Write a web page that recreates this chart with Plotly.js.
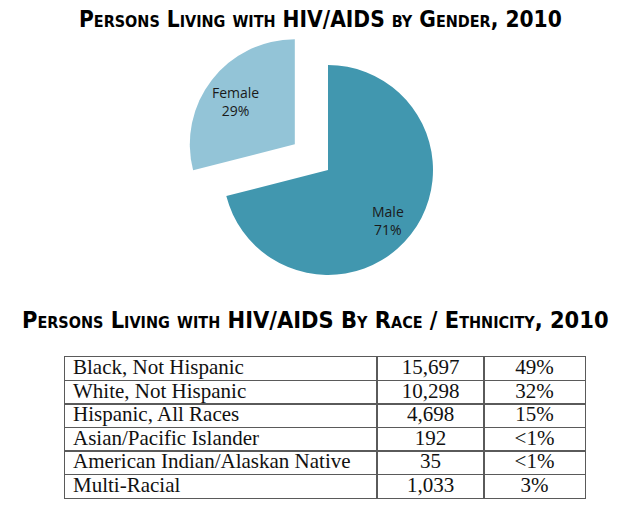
<!DOCTYPE html>
<html>
<head>
<meta charset="utf-8">
<script src="https://cdn.plot.ly/plotly-3.0.1.min.js"></script>
<style>
  html, body { margin: 0; padding: 0; background: #fff; }
  #chart { width: 630px; height: 509px; }
</style>
</head>
<body>
<div id="chart"></div>
<script>
// Gender split of persons living with HIV/AIDS, 2010
const genderLabels = ['Male', 'Female'];
const genderShares = [71, 29];
const genderColors = ['#4197AF', '#93C4D7'];

// Race / ethnicity breakdown, 2010
const raceCategories = [
  'Black, Not Hispanic',
  'White, Not Hispanic',
  'Hispanic, All Races',
  'Asian/Pacific Islander',
  'American Indian/Alaskan Native',
  'Multi-Racial'
];
const raceCounts = ['15,697', '10,298', '4,698', '192', '35', '1,033'];
const racePercents = ['49%', '32%', '15%', '<1%', '<1%', '3%'];

const W = 630, H = 509;
const px = v => v / W;
const py = v => 1 - v / H;

// text goes through Plotly's pseudo-HTML parser, so escape markup characters
const esc = s => String(s).replace(/&/g, '&amp;').replace(/</g, '&lt;').replace(/>/g, '&gt;');

// ---- pie ----
const pieHalf = 147;
const pie = {
  type: 'pie',
  labels: genderLabels,
  values: genderShares,
  sort: false,
  direction: 'clockwise',
  rotation: 0,
  pull: [0, 0.4],
  marker: { colors: genderColors, line: { width: 0 } },
  textinfo: 'none',
  hoverinfo: 'skip',
  showlegend: false,
  domain: { x: [px(328 - pieHalf), px(328 + pieHalf)], y: [py(170 + pieHalf), py(170 - pieHalf)] }
};

// ---- table drawn on its own pair of axes: one unit = one pixel across, one row down ----
const colWidths = [312, 107, 101];
const colEdges = colWidths.reduce((a, w) => a.concat(a[a.length - 1] + w), [0]);
const tableWidth = colEdges[colEdges.length - 1];
const nRows = raceCategories.length;
const rowIdx = raceCategories.map((_, i) => i + 0.5);
const rowH = 23.5;
const tableLeft = 65, tableTop = 357;
const cellPad = 8;

const cellFont = { family: 'Liberation Serif, Times New Roman, serif', size: 21, color: '#111' };
const gridColor = '#5a5a5a';

const textCol = (values, x, pos) => ({
  type: 'scatter',
  mode: 'text',
  xaxis: 'x', yaxis: 'y',
  x: values.map(() => x),
  y: rowIdx,
  text: values.map(esc),
  textposition: pos,
  textfont: cellFont,
  hoverinfo: 'skip',
  showlegend: false,
  cliponaxis: false
});

const colMid = i => (colEdges[i] + colEdges[i + 1]) / 2;
const tableTraces = [
  textCol(raceCategories, colEdges[0] + cellPad, 'middle right'),
  textCol(raceCounts, colMid(1), 'middle center'),
  textCol(racePercents, colMid(2), 'middle center')
];

const titleFont = {
  family: 'DejaVu Sans Condensed, DejaVu Sans, sans-serif',
  weight: 'bold',
  variant: 'small-caps',
  color: '#000'
};

const layout = {
  width: W,
  height: H,
  margin: { l: 0, r: 0, t: 0, b: 0 },
  paper_bgcolor: '#fff',
  plot_bgcolor: '#fff',
  xaxis: {
    domain: [px(tableLeft), px(tableLeft + tableWidth)],
    range: [0, tableWidth],
    tickvals: colEdges.slice(1, -1),
    showticklabels: false, ticks: '',
    showgrid: true, gridcolor: gridColor, gridwidth: 1.4,
    zeroline: false,
    showline: true, mirror: true, linecolor: gridColor, linewidth: 1.4,
    fixedrange: true
  },
  yaxis: {
    domain: [py(tableTop + nRows * rowH), py(tableTop)],
    range: [nRows, 0],
    tickvals: rowIdx.slice(1).map(v => v - 0.5),
    showticklabels: false, ticks: '',
    showgrid: true, gridcolor: gridColor, gridwidth: 1.4,
    zeroline: false,
    showline: true, mirror: true, linecolor: gridColor, linewidth: 1.4,
    fixedrange: true
  },
  annotations: [
    {
      text: 'Persons Living with HIV/AIDS by Gender, 2010',
      xref: 'paper', yref: 'paper', x: px(320), y: py(18.5),
      xanchor: 'center', yanchor: 'middle', showarrow: false,
      font: Object.assign({ size: 22.5 }, titleFont)
    },
    {
      text: 'Persons Living with HIV/AIDS By Race / Ethnicity, 2010',
      xref: 'paper', yref: 'paper', x: px(315), y: py(319.5),
      xanchor: 'center', yanchor: 'middle', showarrow: false,
      font: Object.assign({ size: 23.4 }, titleFont)
    }
  ]
};

const gd = document.getElementById('chart');
Plotly.newPlot(gd, [pie].concat(tableTraces), layout, { displayModeBar: false, staticPlot: true })
  .then(() => {
    // place slice labels along each slice's mid-angle, using the pie geometry Plotly computed
    const cd = gd.calcdata[0];
    const cd0 = cd[0];
    const total = genderShares.reduce((a, b) => a + b, 0);
    const labelAnns = [];
    let acc = 0;
    cd.forEach((pt, i) => {
      const share = genderShares[i];
      const mid = (acc + share / 2) / total * 2 * Math.PI;
      acc += share;
      const dx = Math.sin(mid), dy = -Math.cos(mid);
      const pull = (pie.pull[i] || 0) * cd0.r;
      const rr = 0.72 * cd0.r + pull;
      const lx = cd0.cx + dx * rr;
      const ly = cd0.cy + dy * rr + 4;
      labelAnns.push({
        text: genderLabels[i] + '<br>' + share + '%',
        xref: 'paper', yref: 'paper',
        x: lx / W, y: 1 - ly / H,
        xanchor: 'center', yanchor: 'middle', showarrow: false,
        font: { family: 'Open Sans, sans-serif', size: 14, color: '#1a1a1a' }
      });
    });
    return Plotly.relayout(gd, { annotations: layout.annotations.concat(labelAnns) });
  });
</script>
</body>
</html>
